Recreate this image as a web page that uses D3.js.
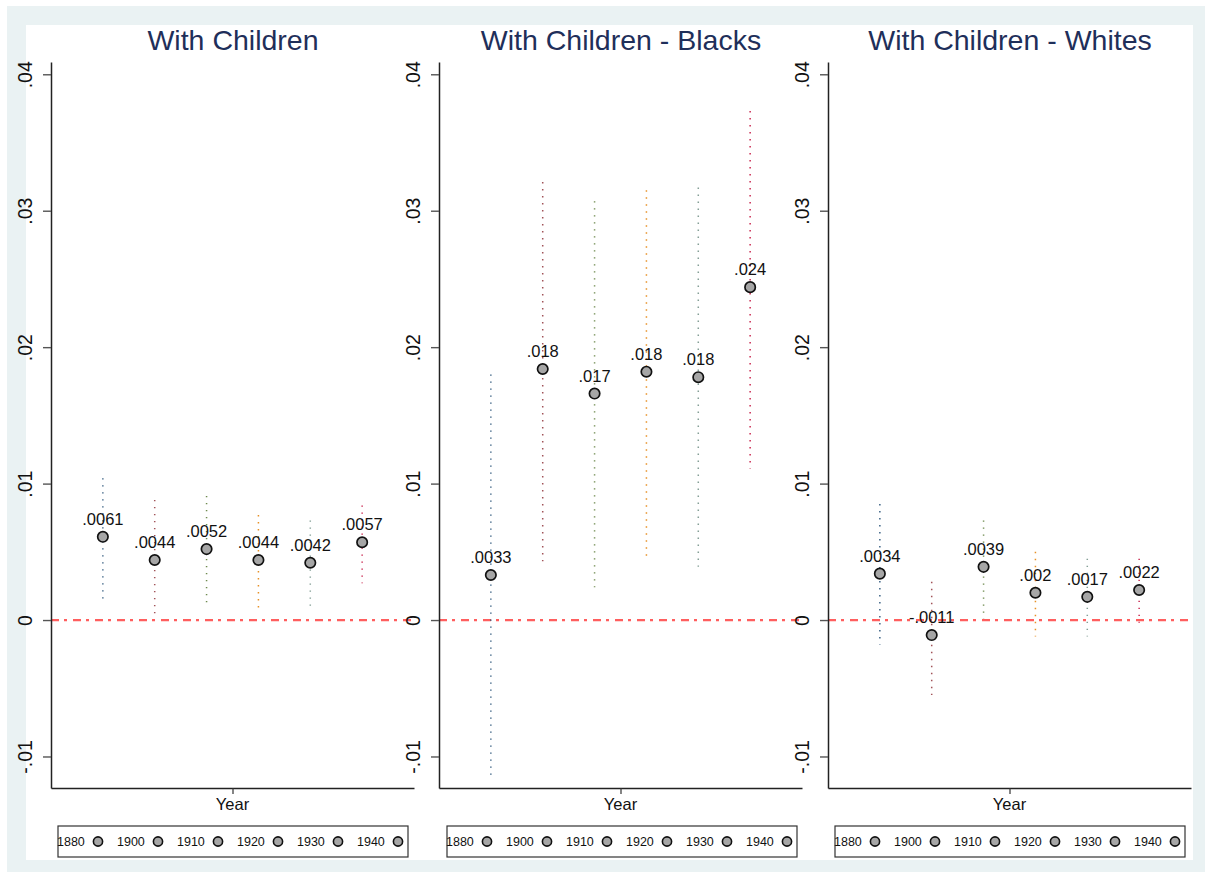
<!DOCTYPE html>
<html>
<head>
<meta charset="utf-8">
<script src="https://cdn.jsdelivr.net/npm/d3@7"></script>
<style>
  html, body { margin: 0; padding: 0; background: #ffffff; }
  svg { display: block; font-family: Arial, "Liberation Sans", sans-serif; }
</style>
</head>
<body>
<svg id="chart" width="1205" height="876"></svg>
<script>
// ---------------- data ----------------
const years = ["1880", "1900", "1910", "1920", "1930", "1940"];
const panelTitles = ["With Children", "With Children - Blacks", "With Children - Whites"];

const estAll = [0.0061, 0.0044, 0.0052, 0.0044, 0.0042, 0.0057];
const loAll  = [0.0015, 0.0005, 0.0013, 0.0009, 0.0010, 0.0027];
const hiAll  = [0.0104, 0.0088, 0.0091, 0.0077, 0.0073, 0.0084];
const lblAll = [".0061", ".0044", ".0052", ".0044", ".0042", ".0057"];

const estBlack = [0.0033, 0.0184, 0.0166, 0.0182, 0.0178, 0.0244];
const loBlack  = [-0.0114, 0.0043, 0.0024, 0.0047, 0.0039, 0.0111];
const hiBlack  = [0.0180, 0.0321, 0.0307, 0.0315, 0.0317, 0.0373];
const lblBlack = [".0033", ".018", ".017", ".018", ".018", ".024"];

const estWhite = [0.0034, -0.0011, 0.0039, 0.0020, 0.0017, 0.0022];
const loWhite  = [-0.0018, -0.0055, 0.0001, -0.0012, -0.0012, -0.0002];
const hiWhite  = [0.0085, 0.0028, 0.0073, 0.0050, 0.0045, 0.0045];
const lblWhite = [".0034", "-.0011", ".0039", ".002", ".0017", ".0022"];

const yTickValues = [-0.01, 0, 0.01, 0.02, 0.03, 0.04];
const yTickLabels = ["-.01", "0", ".01", ".02", ".03", ".04"];
const xAxisTitle = "Year";

// ---------------- styling ----------------
const seriesColors = ["#1a476f", "#90353b", "#55752f", "#e37e00", "#6e8e84", "#c10534"];
const titleColor = "#1f2f5a";

const panels = [
  { title: panelTitles[0], est: estAll,   lo: loAll,   hi: hiAll,   lbl: lblAll,   x0: 51 },
  { title: panelTitles[1], est: estBlack, lo: loBlack, hi: hiBlack, lbl: lblBlack, x0: 439 },
  { title: panelTitles[2], est: estWhite, lo: loWhite, hi: hiWhite, lbl: lblWhite, x0: 828 }
];

const svg = d3.select("#chart");

// outer frame
svg.append("rect").attr("x", 7).attr("y", 6).attr("width", 1198).attr("height", 866)
  .attr("fill", "#eaf2f3");
svg.append("rect").attr("x", 26).attr("y", 25).attr("width", 1167).attr("height", 835)
  .attr("fill", "#ffffff");

const plotW = 363;
const yTop = 62, yBot = 788;

const y = d3.scaleLinear().domain([-0.01231, 0.0409]).range([yBot, yTop]);

panels.forEach((p, pi) => {
  const g = svg.append("g").attr("transform", `translate(${p.x0},0)`);
  const x = d3.scaleLinear().domain([0, 7]).range([0, plotW]);

  // title
  g.append("text")
    .attr("x", plotW / 2 + 0.5)
    .attr("y", 50)
    .attr("text-anchor", "middle")
    .attr("font-size", 28.5)
    .attr("fill", titleColor)
    .text(p.title);

  // zero reference line
  g.append("line")
    .attr("x1", 0).attr("x2", plotW - 2)
    .attr("y1", y(0)).attr("y2", y(0))
    .attr("stroke", "#ff4c4c")
    .attr("stroke-opacity", 0.9)
    .attr("stroke-width", 2.2)
    .attr("stroke-dasharray", "8,5,3,6");

  // y axis
  const yAxis = d3.axisLeft(y)
    .tickValues(yTickValues)
    .tickFormat((d, i) => yTickLabels[i])
    .tickSize(8)
    .tickSizeOuter(0);
  const ya = g.append("g").call(yAxis);
  ya.select(".domain").attr("stroke", "#222").attr("stroke-width", 1.5);
  ya.selectAll(".tick line").attr("stroke", "#555").attr("stroke-width", 1.4);
  ya.selectAll(".tick text")
    .attr("transform", "rotate(-90)")
    .attr("x", 0)
    .attr("y", -19)
    .attr("dy", 0)
    .attr("text-anchor", "middle")
    .attr("font-size", 19.5)
    .attr("font-family", "Arial, 'Liberation Sans', sans-serif")
    .attr("fill", "#111");

  // x axis (single middle tick, no label)
  const xAxis = d3.axisBottom(x).tickValues([3.5]).tickFormat("").tickSize(6).tickSizeOuter(0);
  const xa = g.append("g").attr("transform", `translate(0,${yBot})`).call(xAxis);
  xa.select(".domain").attr("stroke", "#222").attr("stroke-width", 1.5);
  xa.selectAll(".tick line").attr("stroke", "#333").attr("stroke-width", 1.2);

  g.append("text")
    .attr("x", x(3.5))
    .attr("y", 810)
    .attr("text-anchor", "middle")
    .attr("font-size", 16.5)
    .attr("fill", "#111")
    .text(xAxisTitle);

  // CI lines
  years.forEach((yr, i) => {
    g.append("line")
      .attr("x1", x(i + 1)).attr("x2", x(i + 1))
      .attr("y1", y(p.hi[i])).attr("y2", y(p.lo[i]))
      .attr("stroke", seriesColors[i])
      .attr("stroke-opacity", 0.85)
      .attr("stroke-width", 1.5)
      .attr("stroke-dasharray", "1.4,5.6");
  });

  // points
  years.forEach((yr, i) => {
    g.append("circle")
      .attr("cx", x(i + 1)).attr("cy", y(p.est[i]))
      .attr("r", 5.2)
      .attr("fill", "#a6a6a6")
      .attr("stroke", "#111")
      .attr("stroke-width", 1.7);
    g.append("text")
      .attr("x", x(i + 1)).attr("y", y(p.est[i]) - 12)
      .attr("text-anchor", "middle")
      .attr("font-size", 16.5)
      .attr("fill", "#111")
      .text(p.lbl[i]);
  });

  // legend
  const lg = g.append("g").attr("transform", `translate(${7 + (pi === 1 ? 1 : 0)},826)`);
  lg.append("rect").attr("x", 0).attr("y", 0).attr("width", 350).attr("height", 31)
    .attr("fill", "#ffffff").attr("stroke", "#333").attr("stroke-width", 1.2);
  years.forEach((yr, i) => {
    const lx = i * 60;
    lg.append("text")
      .attr("x", lx - 1).attr("y", 20)
      .attr("font-size", 12.5)
      .attr("fill", "#111")
      .text(yr);
    lg.append("circle")
      .attr("cx", lx + 40).attr("cy", 15.5)
      .attr("r", 4.6)
      .attr("fill", "#a6a6a6")
      .attr("stroke", "#111")
      .attr("stroke-width", 1.6);
  });
});
</script>
</body>
</html>
